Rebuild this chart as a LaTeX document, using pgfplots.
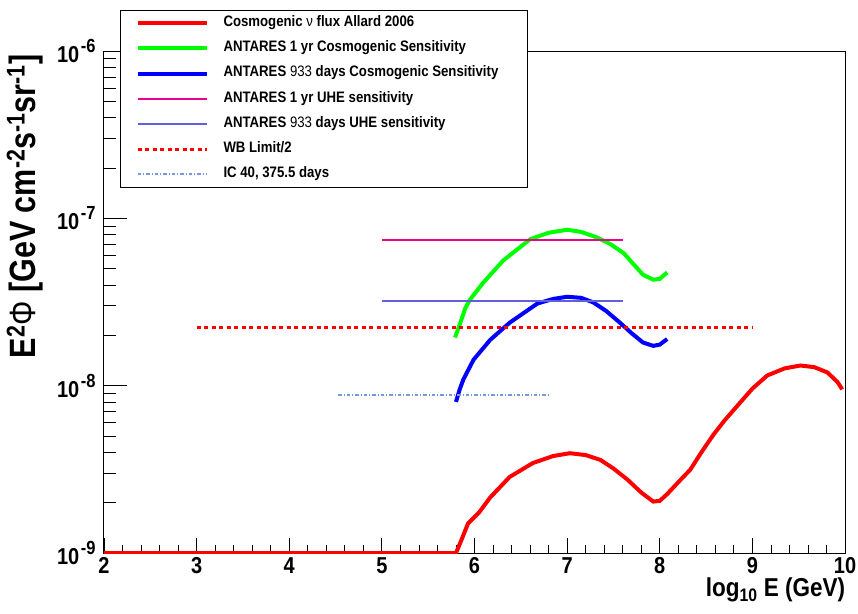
\documentclass[border=0pt]{standalone}
\usepackage{fontspec}
\setmainfont{Liberation Sans}
\usepackage{graphicx}
\usepackage{pgfplots}
\pgfplotsset{compat=1.18}
\definecolor{uheblue}{RGB}{95,95,220}
\definecolor{icblue}{RGB}{120,150,225}
\newcommand{\vs}[1]{\scalebox{1}[1.15]{#1}}
\newcommand{\pw}[1]{\vs{10\hspace{1.5pt}\raisebox{0.42em}{\fontsize{16.5}{16.5}\selectfont -#1}}}
\begin{document}
\begin{tikzpicture}
\path[use as bounding box] (-104pt,-60pt) rectangle (754pt,553pt);
\begin{axis}[
  at={(0,0)}, anchor=south west,
  scale only axis, width=741pt, height=502pt,
  xmin=2, xmax=10, ymode=log, ymin=1e-9, ymax=1e-6,
  axis line style={line width=1pt},
  tick align=inside, xtick pos=bottom, ytick pos=left,
  xtick={2,3,4,5,6,7,8,9,10}, minor x tick num=4,
  xticklabels={\vs{2},\vs{3},\vs{4},\vs{5},\vs{6},\vs{7},\vs{8},\vs{9},\vs{10}},
  ytick={1e-9,1e-8,1e-7,1e-6},
  yticklabels={\pw{9},\pw{8},\pw{7},\pw{6}},
  major tick length=15pt, minor tick length=8pt,
  every tick/.style={black, line width=0.8pt},
  ytick style={/pgfplots/major tick length=23pt,/pgfplots/minor tick length=12pt},
  tick label style={font=\bfseries\fontsize{20}{20}\selectfont},
  xticklabel style={yshift=-1pt},
  yticklabel style={xshift=-5pt},
  xlabel={\vs{log\textsubscript{10} E (GeV)}},
  xlabel style={at={(axis description cs:1.005,-0.074)}, anchor=east, font=\bfseries\fontsize{22.5}{22.5}\selectfont},
  ylabel={\scalebox{1}[1.2]{E\textsuperscript{2}{\mdseries Φ} [GeV cm\textsuperscript{-2}s\textsuperscript{-1}sr\textsuperscript{-1}]}},
  ylabel style={at={(axis description cs:-0.1066,1.0)}, anchor=east, font=\bfseries\fontsize{30.5}{30.5}\selectfont},
  legend cell align=left,
  legend image code/.code={\draw[#1] (0pt,0pt) -- (69pt,0pt);},
  legend style={at={(axis description cs:0.0216,1.0817)}, anchor=north west,
    draw=black, line width=1pt, fill=white, inner xsep=15pt, inner ysep=7pt,
    font=\bfseries\fontsize{13.2}{13.2}\selectfont,
    nodes={inner sep=0pt, text height=9pt, text depth=2.5pt},
    row sep=13.7pt, column sep=15pt},
]
\addplot[red, line width=4pt] coordinates {
(2,1e-9)(5.8,1e-9)(5.86,1.2e-9)(5.93,1.5e-9)(6.05,1.75e-9)(6.17,2.15e-9)(6.38,2.85e-9)(6.63,3.45e-9)(6.85,3.8e-9)(7.03,3.95e-9)(7.2,3.85e-9)(7.36,3.6e-9)(7.5,3.2e-9)(7.65,2.75e-9)(7.8,2.3e-9)(7.93,2.03e-9)(8.0,2.05e-9)(8.08,2.25e-9)(8.2,2.65e-9)(8.33,3.15e-9)(8.45,4.0e-9)(8.58,5.1e-9)(8.7,6.2e-9)(8.83,7.5e-9)(9.0,9.6e-9)(9.16,1.15e-8)(9.35,1.27e-8)(9.52,1.32e-8)(9.67,1.29e-8)(9.81,1.2e-8)(9.92,1.05e-8)(9.97,9.5e-9)
};
\addlegendentry{\vs{Cosmogenic {\mdseries ν} flux Allard 2006}}
\addplot[green, line width=4pt] coordinates {
(5.79,1.94e-8)(5.85,2.4e-8)(5.9,2.9e-8)(5.95,3.26e-8)(6.09,4.1e-8)(6.31,5.6e-8)(6.6,7.5e-8)(6.8,8.2e-8)(7.0,8.55e-8)(7.15,8.3e-8)(7.32,7.7e-8)(7.47,7.0e-8)(7.61,6.2e-8)(7.72,5.3e-8)(7.82,4.6e-8)(7.93,4.3e-8)(8.0,4.35e-8)(8.08,4.75e-8)
};
\addlegendentry{\vs{ANTARES 1 yr Cosmogenic Sensitivity}}
\addplot[blue, line width=4pt] coordinates {
(5.8,8.0e-9)(5.84,9.5e-9)(5.88,1.09e-8)(5.99,1.43e-8)(6.17,1.88e-8)(6.38,2.38e-8)(6.68,3.1e-8)(6.85,3.3e-8)(7.0,3.4e-8)(7.15,3.35e-8)(7.28,3.15e-8)(7.42,2.8e-8)(7.57,2.38e-8)(7.7,2.05e-8)(7.82,1.81e-8)(7.93,1.73e-8)(8.0,1.76e-8)(8.08,1.9e-8)
};
\addlegendentry{\vs{ANTARES {\mdseries 933} days Cosmogenic Sensitivity}\rule{14pt}{0pt}}
\addplot[magenta, line width=2pt] coordinates {(5,7.44e-8)(7.6,7.44e-8)};
\addlegendentry{\vs{ANTARES 1 yr UHE sensitivity}}
\addplot[uheblue, line width=2.5pt] coordinates {(5,3.21e-8)(7.6,3.21e-8)};
\addlegendentry{\vs{ANTARES {\mdseries 933} days UHE sensitivity}}
\addplot[red, line width=2.5pt, dash pattern=on 4pt off 3.5pt] coordinates {(3,2.22e-8)(9,2.22e-8)};
\addlegendentry{\vs{WB Limit/2}}
\addplot[icblue, line width=2pt, dash pattern=on 3.5pt off 2pt on 1pt off 2pt] coordinates {(4.53,8.83e-9)(6.81,8.83e-9)};
\addlegendentry{\vs{IC 40, 375.5 days}}
\end{axis}
\end{tikzpicture}
\end{document}
